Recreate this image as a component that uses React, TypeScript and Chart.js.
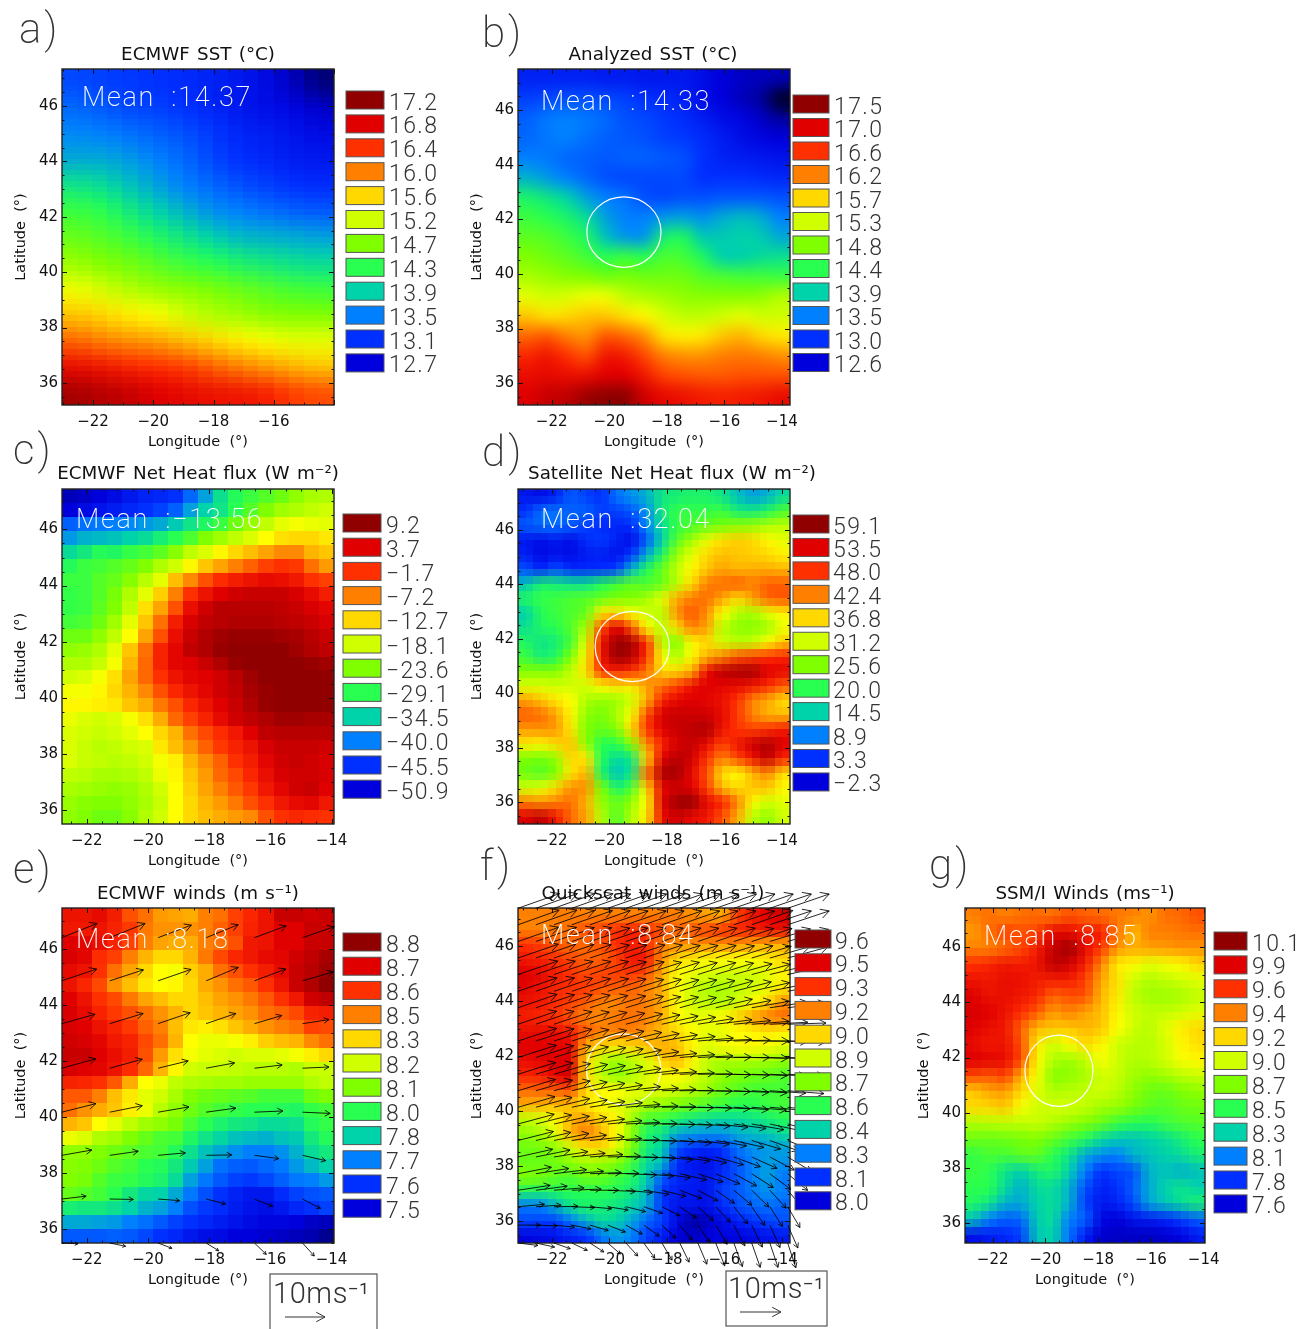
import React, { useEffect, useRef } from "react";
import { Chart, registerables } from "chart.js";

Chart.register(...registerables);

// Field values are colour-class positions: 0 is the lowest legend class, 11 the highest.
const levelsA = [
  [1.3,1.2,1.1,1.0,0.9,0.7,0.5,0.2,-0.3,-0.9],
  [1.7,1.5,1.3,1.2,1.0,0.8,0.5,0.3,0.1,-0.2],
  [2.1,2.0,1.8,1.6,1.4,1.1,0.8,0.6,0.4,0.2],
  [2.5,2.5,2.3,2.0,1.7,1.3,1.0,0.8,0.6,0.5],
  [3.4,3.2,2.8,2.4,2.0,1.7,1.4,1.2,1.0,0.9],
  [4.2,4.0,3.5,3.0,2.6,2.2,2.0,1.8,1.6,1.5],
  [4.7,4.5,4.2,3.8,3.4,3.0,2.7,2.6,2.5,2.4],
  [5.3,5.0,4.8,4.5,4.2,4.0,3.7,3.5,3.3,3.2],
  [6.3,6.0,5.6,5.3,5.1,4.9,4.7,4.5,4.3,4.2],
  [7.2,7.0,6.7,6.4,6.0,5.6,5.4,5.1,5.0,5.0],
  [8.3,8.0,7.8,7.6,7.3,7.0,6.7,6.4,6.2,6.2],
  [9.7,9.5,9.2,9.0,8.8,8.4,8.0,7.7,7.4,7.2],
  [10.7,10.5,10.3,10,9.8,9.6,9.5,9.3,8.8,8.6],
];
const levelsB = [
  [0.7,0.7,0.7,0.7,0.6,0.6,0.5,0.5,0.5,0.3,0,-0.2,-0.3,-0.4],
  [1.2,1.3,1.4,1.4,1.3,1.2,1.0,0.9,0.7,0.3,0,-0.3,-0.6,-1.8],
  [1.6,1.9,2.0,1.9,1.7,1.4,1.3,1.1,0.9,0.6,0.3,0.1,-0.2,-0.6],
  [1.7,1.9,2.0,1.8,1.6,1.5,1.4,1.2,1.1,0.9,0.6,0.3,0.1,0.0],
  [2.0,1.9,1.7,1.6,1.5,1.6,1.6,1.5,1.4,1.0,0.7,0.6,0.5,0.4],
  [2.6,2.3,2.0,1.7,1.4,1.3,1.3,1.3,1.3,1.0,1.0,1.0,0.9,0.8],
  [3.7,3.4,3.0,2.4,2.0,1.8,1.4,1.3,1.4,1.4,1.5,1.5,1.5,1.4],
  [4.2,4.0,3.7,3.2,2.4,2.0,2.0,2.3,2.4,2.2,2.5,2.7,2.5,2.0],
  [4.6,4.5,4.2,3.8,2.8,2.3,2.3,3.6,3.8,2.9,2.9,3.0,2.9,2.5],
  [5.0,4.8,4.6,4.3,4.0,4.2,4.0,4.4,4.3,3.8,3.0,3.0,3.2,3.3],
  [5.5,5.3,5.1,5.0,4.8,4.9,4.8,4.8,4.8,4.5,4.4,4.3,4.3,4.2],
  [6.2,6.0,6.1,6.3,6.3,5.8,5.6,5.4,5.2,5.1,5.1,5.1,5.2,5.6],
  [7.2,6.9,7.0,7.2,7.2,6.9,6.6,6.1,5.8,5.8,6.0,6.2,6.0,6.0],
  [8.3,8.5,8.0,7.8,8.5,8.3,7.8,6.9,6.7,6.8,7.2,7.4,7.0,6.8],
  [9.2,9.5,9.0,8.6,9.5,9.4,8.7,8.0,7.8,7.8,8.0,8.1,8.0,7.8],
  [9.7,9.8,9.7,9.7,10,10,9.5,8.8,8.6,8.5,8.5,8.6,8.6,8.6],
  [10,10.3,10.4,10.8,11,11,10.2,9.8,9.6,9.4,9.3,9.4,9.5,9.7],
];
const levelsC = [
  [-0.3,-0.2,0,0.2,0.5,0.7,0.8,1.0,1.7,2.4,3.3,3.9,4.2,4.5,4.8,5.2,5.5,5.6],
  [0,0.2,0.4,0.6,0.8,1,1.2,1.6,2.4,3,3.4,4,4.5,5,5.4,5.6,5.8,6],
  [1.6,1.8,1.9,2.0,2.1,2.3,2.5,2.9,3.4,3.8,4.2,4.8,5.3,5.8,6.2,6.4,6.3,6.2],
  [2.3,2.6,2.7,2.8,3,3.2,3.6,4,4.4,5,5.4,5.8,6.1,6.5,6.9,7,7,6.8],
  [3.2,3.5,3.9,3.8,4.1,4.3,4.6,5.1,5.8,6.1,6.6,7,7.3,7.6,7.9,7.9,7.4,7.2],
  [3.9,4.2,4.3,4.5,4.7,5.0,5.6,6,6.6,7.2,7.6,8,8.4,8.8,9,8.9,8.2,7.7],
  [4.2,4.2,4.5,4.7,5.1,5.7,6.2,7.3,7.9,8.6,9.1,9.4,9.6,9.8,9.7,9.5,9,8.8],
  [4.1,4.2,4.5,4.9,5.6,6.2,7.1,8,9,9.6,10,10.2,10.3,10.3,10.3,10.1,9.8,9.4],
  [4.1,4.2,4.6,5,5.8,6.9,7.6,8.6,9.7,10.2,10.5,10.5,10.5,10.5,10.4,10.3,10.1,9.9],
  [4.3,4.4,4.8,5.4,6.2,7.2,8.2,9.4,10.1,10.4,10.5,10.6,10.6,10.6,10.5,10.4,10.3,10.1],
  [4.8,4.8,5.2,5.8,6.5,7.6,8.6,9.7,10.3,10.6,10.8,10.9,10.9,10.9,10.8,10.7,10.5,10.3],
  [5.2,5.3,5.6,6.2,7.2,8.2,9.3,9.9,10.4,10.6,10.9,11,11,11,11,10.8,10.6,10.4],
  [5.6,5.6,5.9,6.4,7.4,8.3,9.3,9.9,10,10.3,10.6,10.9,11,11,11.1,11,10.9,10.8],
  [6.0,6.1,6.4,6.9,7.6,8.3,9,9.6,9.9,10,10.2,10.5,10.8,11,11.1,11.2,11.2,11.1],
  [6.4,6.4,6.6,7.0,7.4,7.9,8.6,9.2,9.6,9.9,10.2,10.4,10.7,10.9,11.1,11.2,11.3,11.3],
  [6.6,6.6,6.7,6.8,7.2,7.5,8.1,8.6,9.2,9.6,10,10.3,10.6,10.9,11,11,11.1,11.1],
  [6.3,6.1,6,6.1,6.4,6.9,7.5,8.3,8.8,9.3,9.8,10.2,10.4,10.6,10.8,10.8,10.7,10.7],
  [6.1,6,5.9,6,6.2,6.5,7.0,7.4,8.2,8.7,9.1,9.5,10,10.4,10.5,10.5,10.5,10.5],
  [6.1,5.9,5.7,5.8,6,6.1,6.8,7.3,7.8,8.4,8.9,9.3,9.6,10.1,10.3,10.3,10.3,10.2],
  [6.1,5.9,5.8,5.7,5.8,6,6.4,6.7,7.4,7.9,8.4,9,9.4,9.9,10.2,10.3,10.2,10.1],
  [5.8,5.7,5.5,5.5,5.6,5.8,6.3,6.6,7.2,7.7,8.3,8.7,9.2,9.7,10.1,10.2,10.2,10.1],
  [5.5,5.4,5.3,5.2,5.3,5.6,6,6.5,7.1,7.6,8,8.5,8.9,9.5,9.9,10.2,10.3,10],
  [5.3,5.1,5,5,5.2,5.5,5.9,6.5,7,7.4,7.7,8.1,8.6,9,9.5,9.8,9.9,9.5],
  [5.2,5,4.8,4.8,5.1,5.6,6,6.5,7,7.3,7.5,7.7,7.9,8.6,9,9.2,9.1,9.0],
];
const levelsD = [
  [0.5,0.3,0.7,1.5,1.2,1,1.8,2.2,2.6,3.4,3.6,3.7,3.7,3.4,2.8,2.4,2.6,3.2],
  [1,1.7,1.8,1.6,1.6,1.2,1.2,1.5,2.2,3.5,4.1,4.1,4.1,4.2,3.6,3.5,3.8,4.4],
  [1.5,1.7,1.7,1.5,1.2,0.9,0.8,1.0,2.1,3.2,4.1,4.4,4.7,4.9,5.1,5.2,5.5,5.7],
  [0.5,0.3,0.6,0.3,0.9,1.1,0.7,0.3,1.5,3,4.5,5.4,6.2,6.9,7.1,7,6.6,6.2],
  [0.7,0.2,0.4,0.3,0.6,0.7,0.4,1.1,2.5,3.8,5.3,6.2,7,7.3,7.2,7.1,7,6.7],
  [1.4,0.8,1.4,0.9,0.9,1,1.2,2.6,3.8,4.7,5.8,6.6,7.2,7.6,7.4,7.5,7.5,7.4],
  [2.8,3.6,3.5,3.3,3.3,3.8,4.2,4.6,4.4,4.7,5.7,7,8,8.2,8.4,8,8.4,8.4],
  [3.8,4.1,4.2,4.4,4.5,4.7,5,5,5.4,6.2,7.5,8,8.2,7.6,7,7.6,8.3,8.5],
  [3,3.9,4.2,4.4,4.7,6.8,7,6.4,6,5.7,7.8,8.5,7.8,6.5,5.7,5.5,6.2,6.7],
  [3.3,3.8,4,4.5,5.5,8.5,10,8.5,6.6,5.8,7,8,7.6,5.8,5.2,5.1,5.4,6.3],
  [3.8,3.4,3.6,4.3,6.2,9.5,10.8,10.7,9,5.8,5,6.6,7,6,5.8,5.9,6.5,7.2],
  [4.2,3.6,3.9,5,6.7,9.5,10.8,10.5,9,6.5,5.6,6.6,7.5,8,8.6,8.8,9,9.2],
  [5,5,5,5.8,6.9,9,9.3,9,8.2,7,7,7.5,9.6,10.4,10.6,10.7,10,9.8],
  [6.1,6.1,6,6,6,6.6,6.9,6.8,7.6,8.2,8.8,9.6,10,9.9,9.8,9.5,9.1,8.5],
  [7.6,7.2,6.8,6.5,5.6,5.3,5.4,6,7.4,9.2,9.8,10,9.9,9.6,9,8,7.6,7],
  [8.4,8.2,7.6,6.6,5.2,4.9,5.5,6.4,8.6,10.1,10.3,10.2,10.2,9.8,8.9,8,7.5,7.4],
  [7.7,7.8,7.7,6.8,5,4.7,5,7,8.8,10,10.3,10.4,10.6,9.6,9,8.8,9,9.4],
  [6.8,6.6,7,7.2,5.2,4,4,5,7.8,9.2,10.1,10.3,9.8,8.8,9.5,10.2,10.6,10],
  [5,4.9,5.3,7,6.8,4,3.2,3.5,7,9.9,10.5,10.2,9,8,8.7,9.5,10.4,9.2],
  [4.8,4.5,5,6.8,7.4,3.8,2.8,3.4,8.2,10.6,10.7,9.8,8.6,7,6.6,7.4,8,7],
  [6,6.2,7,7.8,7.8,5,3.7,4.4,7,9.8,10.2,10,8.8,7.4,7,7.2,7.2,6.6],
  [8,7.8,8,8.2,7.4,5.3,4.7,5.2,6.5,10,10.8,10.9,9.8,9.2,8,6.6,6,6.2],
  [10,10.4,9.5,8.3,7.6,5.7,4.5,5.6,6.8,9.6,10.2,9.8,9.5,8.6,7.5,5.8,5.2,6],
];
const levelsE = [
  [9.6,9.6,9.8,9.4,8.6,8.2,7.7,7.6,7.5,8,8.2,8.8,9.2,9.6,10.3,10.3,10.2,10.3],
  [9.5,9.5,9.6,9.3,8.9,8.1,7.8,7.8,7.8,8,8.4,8.8,9.3,9.6,10,10,10.3,10.3],
  [10,9.9,9.7,9.3,8.8,8,7.6,7.5,7.5,8,8.2,8.6,9.5,9.6,10,10,10.3,10.3],
  [10.1,9.9,9.1,8.8,8,7.4,7,7,7.4,8.1,8.7,9.2,9.5,9.8,9.9,10.2,10.4,10.7],
  [9.8,9.6,9,8.2,7.6,7,6.5,6.4,7.1,7.5,8.2,8.6,9,9.4,9.8,10.3,10.5,10.8],
  [9.6,9.2,8.7,7.8,7.3,6.8,6.5,6.6,7,7.5,7.8,8.2,8.5,9,9.6,10.3,10.6,11],
  [10,9.6,9,8.7,8.1,7.6,7.3,7,7,7.3,7.6,7.8,8.1,8.5,9,9.5,10.2,10.4],
  [10.1,9.8,9.3,8.9,8.6,8.2,7.8,7.4,7,7.2,7.4,7.6,7.8,8.2,8.4,8.7,9.3,9.4],
  [10.1,10,9.6,9.3,8.9,8.4,8,7.3,6.8,6.7,6.9,7.2,7.5,7.8,8,8.2,8.8,8.7],
  [10.2,10.1,9.9,9.5,9.3,8.7,8.2,7.4,6.5,6.3,6.3,6.4,6.7,7.1,7.3,7.4,7.9,8.2],
  [10.3,10.3,10,9.7,9.4,8.6,7.7,6.9,6.4,6.2,6.1,6,6.1,6.1,6.2,6.4,6.7,7],
  [10.1,10,9.9,9.6,9.1,8.3,7.4,6.6,6,5.9,5.9,5.8,5.7,5.7,5.7,5.6,5.9,5.9],
  [9.3,9.2,9,8.5,7.5,6.5,6.3,5.8,5.6,5.5,5.4,5.4,5.3,5.3,5.3,5.3,5.6,5.8],
  [8.5,8.5,8,7.3,6.8,6.2,6,5.5,5,4.8,4.7,4.6,4.5,4.3,4.3,4.3,4.8,5],
  [8.2,7.8,7.5,7.2,6.7,6.3,5.7,5.2,4.8,4.5,4.3,4.1,4,4,3.9,3.8,4.1,4.3],
  [7.4,7.2,6.5,6.2,5.8,5.4,5.2,4.9,4.4,4,3.7,3.5,3.4,3.2,3.2,3.3,3.9,4.1],
  [6.3,6.1,5.6,5.4,5,4.7,4.4,4.3,3.8,3.4,3.1,2.8,2.7,2.6,2.8,2.9,3.5,3.9],
  [5.2,5.2,5.0,4.8,4.6,4.4,4.3,3.9,3.3,2.8,2.5,2.2,2,2,2.2,2.6,3.2,3.5],
  [5.1,5,4.8,4.5,4.3,4,3.9,3.5,2.9,2.4,1.8,1.6,1.5,1.7,1.9,2.3,2.7,3],
  [5,4.9,4.5,4.2,4.1,3.9,3.7,3.2,2.4,1.9,1.5,1.2,1.1,1.3,1.6,1.9,2.0,2.3],
  [4.7,4.5,4.3,4,3.5,3.1,3,2.5,1.9,1.4,1,0.7,0.5,0.5,0.9,1.2,1.4,1.5],
  [3.6,3.5,3.5,3.3,3,2.6,2.4,2,1.4,1.1,0.9,0.6,0.4,0.3,0.5,0.8,1,1.2],
  [2.5,2.5,2.4,2.3,2,1.8,1.5,1.2,1,0.8,0.6,0.4,0.2,0.1,0.1,0,-0.2,-0.3],
  [1.5,1.5,1.5,1.6,1.5,1.3,1,0.8,0.5,0.3,0.2,0,0,-0.1,-0.2,-0.3,-0.4,-0.7],
];
const levelsF = [
  [8,8,8,8,8,8,8,8,8,8,8,7.8,7.6,7.5,8.8,9.5,10,10.2],
  [8,8,8.1,8.3,8.6,8.8,9,9.3,9,8.7,8.3,8.5,8.7,8.9,9.1,9.3,9.5,9.6],
  [9,8.8,8.5,8.3,8.3,8.6,9,9.4,9,8.1,7.8,7.8,7.8,7.8,7.8,7.6,7.5,7.5],
  [9.5,9.3,9,8.7,8.4,8.4,8.8,9.5,9.5,7.9,7,6.8,6.6,6.5,6.5,6.5,6.7,7],
  [10,9.8,9.4,9,8.7,8.8,8.8,8.9,8.6,7.5,6.5,6.3,6.1,6,6,6,6.2,6.6],
  [9.9,9.6,9.2,9,8.9,8.6,8.4,8.4,8,7.5,6.5,6,5.6,5.5,5.8,6,6.3,6.8],
  [9.6,9.5,9.1,8.8,8.4,8,7.9,8.2,8,7.5,6.5,6,5.8,5.7,6,6.5,7,7.8],
  [9.4,9.2,9,8.5,8,7.9,8.1,8.2,8,7.5,6.6,6.3,6.3,6.5,7,7.6,8,8.2],
  [9.7,9.8,9.7,9.4,8.5,8,8,8,7.7,7.3,7,6.5,6.2,6.2,6.5,6.6,6.8,6.6],
  [10,10,9.9,9.8,7.5,7,6.8,7,7.2,7.5,7.3,6.6,6.2,6.4,6.5,6.6,6.4,6.2],
  [9.7,9.9,10,10.1,7,5.8,5.3,5.7,6.1,7,7.4,6.6,5.8,5.5,5.5,5.5,5.4,5.2],
  [9.2,9.3,9.8,10.1,7,5.8,5.2,5.6,6.1,6.4,6.5,6.2,5.7,5.2,5,4.8,4.7,4.5],
  [8.3,8.4,8.4,8.6,7,6.6,6.5,6.2,6.2,6.2,6,5.7,5.3,4.8,4.5,4.3,4.3,4.3],
  [7.5,7.4,7.3,7.3,6.8,6.5,6.2,6,5.5,5.2,4.9,4.7,4.4,4.2,4,4,4.2,4.3],
  [5.8,6.1,6.5,7.4,7.6,7,6.6,5.5,4.4,4.2,3.8,3.5,3.3,3.2,3.2,3.4,3.6,3.9],
  [5.2,5.5,6.2,7.4,8,7.4,6.5,5.2,3.8,3.4,2.5,2.3,2.2,2.2,2.5,2.7,2.8,3.2],
  [4.8,4.9,5.2,6,6.8,7,6.2,5,3.6,3,1.4,1,0.8,1,1.8,2.2,2.3,2.4],
  [4.7,4.7,4.8,5.1,5.4,5.3,5,4.3,3.2,2.7,0.9,0.5,0.3,0.8,1.5,2,2.4,2.2],
  [5,4.9,4.6,4.4,4.8,4.7,4.3,3.9,3,1.6,0.8,0.6,0.5,0.9,1.4,2,2.4,1.9],
  [3.7,3.6,3.8,4,3.9,4,3.8,3.5,2.7,1.1,0.6,0.5,0.4,1.2,1.5,1.9,2.2,2],
  [1.9,2,2.6,3.3,3.7,3.6,3.4,3,2.5,1.1,0.4,0.4,0.3,0.8,1.3,1.6,1.8,1.6],
  [1.3,1.2,1.2,1.9,2.6,3.2,3,2.5,1.7,1.2,0.2,-0.5,-0.3,0.2,0.6,1,1.2,1.4],
  [0.1,0.2,0.4,0.7,1,1.8,2.3,2,1.2,0.6,0,-0.2,0,0.1,0.1,0.2,0.4,0.5],
];
const levelsG = [
  [8,8.2,8,8.2,8.3,8.2,8.6,8.4,8.3,8.1,8,7.8,8.2,8.3,8.6],
  [7.7,8.2,8.8,8.6,8.8,9.8,9.8,9.4,9.4,8.2,7.3,8,8,8.1,8.2],
  [8,8,8.3,8.7,9.4,10.3,10.8,9.8,8.9,7.8,7.5,7.6,7.7,7.8,7.8],
  [9,9.2,9.5,9.4,9.6,10.4,10.2,9.4,8,6.8,6.6,6.2,6.4,6.6,7],
  [9.6,9.5,9.7,9.7,9.4,9.4,9.4,8.8,7.6,6.9,6,5.6,5.8,6,6.2],
  [10,9.6,9.7,9.5,9.2,8.4,8.6,8.6,7.4,6.8,5.8,5.4,5.4,5.5,5.8],
  [10.1,10,9.6,9.1,8.5,7.7,8,7.6,7.3,6.6,6,5.8,5.8,6,6.2],
  [10,9.7,9.5,8.4,7.4,7.2,7.2,7.4,7.2,6.5,6,5.7,6.2,6.7,7],
  [9.8,9.5,9.6,8.6,6.8,6,6.5,7,6.6,6,5.7,5.7,6,6.6,6.9],
  [10,9.9,9.7,8.7,6.6,5.6,5.4,5.8,6.4,6,5.6,5.7,6,6.4,6.6],
  [8.7,8.5,8.8,7.5,6.4,5.1,5.2,5.5,6,5.9,5.4,5.2,5.4,5.7,5.9],
  [7.2,7.6,7.7,7,6.2,5.6,5.7,5.8,6,5.7,5.2,4.8,4.7,5,5.2],
  [7,7,7.2,6.4,6,6,6,5.8,5.4,5.3,4.9,4.6,4.5,4.7,4.8],
  [5.6,5.7,5.8,5.8,5.9,5.6,5.3,5,4.7,4.2,4,3.9,4.2,4.4,4.5],
  [4.8,4.7,4.8,4.9,5,4.7,4.3,3.9,3.2,2.9,2.8,3,3.2,3.6,4],
  [4.1,4.4,4.3,4.6,4.6,4,3.4,2.5,2.2,2,2.6,2.8,3,3.2,3.6],
  [4.2,4,3.4,3,3.6,3.8,3,2,1,1.3,1.4,2.6,2.8,2.6,2.8],
  [4,4,3.2,2.6,3.2,3.2,2.6,1.4,0.7,1,1.6,2.5,3,3.3,3],
  [3.8,3.4,2.6,2.5,3,3.2,2.6,1.2,0.5,0.7,1.3,2.4,2.8,3.2,3.6],
  [2.8,2,1.6,1.7,2.9,3.2,2,1.6,0.2,0,0.4,0.6,0.8,1.2,1.6],
  [0.4,0.6,0.8,1.2,2.8,3,1.8,0.6,-0.1,-0.2,-0.2,-0.2,-0.1,0.1,0.6],
];

const legendA = ["17.2","16.8","16.4","16.0","15.6","15.2","14.7","14.3","13.9","13.5","13.1","12.7"];
const legendB = ["17.5","17.0","16.6","16.2","15.7","15.3","14.8","14.4","13.9","13.5","13.0","12.6"];
const legendC = ["9.2","3.7","−1.7","−7.2","−12.7","−18.1","−23.6","−29.1","−34.5","−40.0","−45.5","−50.9"];
const legendD = ["59.1","53.5","48.0","42.4","36.8","31.2","25.6","20.0","14.5","8.9","3.3","−2.3"];
const legendE = ["8.8","8.7","8.6","8.5","8.3","8.2","8.1","8.0","7.8","7.7","7.6","7.5"];
const legendF = ["9.6","9.5","9.3","9.2","9.0","8.9","8.7","8.6","8.4","8.3","8.1","8.0"];
const legendG = ["10.1","9.9","9.6","9.4","9.2","9.0","8.7","8.5","8.3","8.1","7.8","7.6"];

const xTicksShort = [-22, -20, -18, -16];
const xTicksLong = [-22, -20, -18, -16, -14];
const yTicks = [36, 38, 40, 42, 44, 46];

// ECMWF wind vectors (m/s), tails at lonE x latE
const lonE = [-22.82, -21.25, -19.67, -18.1, -16.52, -14.95];
const latE = [46.4, 44.86, 43.33, 41.74, 40.17, 38.63, 37.07, 35.5];
const uE = [
  [8.7,8.7,8.2,7.9,7.8,7.8],[8.6,8.3,8.1,7.9,7.7,7.6],[8.2,8.2,7.9,7.3,6.7,6.5],[8.4,8,7.4,7,6.8,6.5],
  [8.4,8,7.6,7.3,7,6.8],[7.4,7,6.7,6.3,6,5.7],[6,5.8,5.3,4.8,4.5,4.4],[4,3.9,3.4,3.1,2.9,2.9],
];
const vE = [
  [3.5,3.5,3.1,3.2,2.9,2.7],[2.9,2.7,2.8,3.3,2.9,2.2],[2.3,2.5,2.7,2.5,2,1],[2.3,2.2,1.8,1.3,0.8,0.3],
  [2.1,1.6,1.3,1,0.3,-0.3],[1.3,1,0.6,0.1,-0.8,-1.3],[0.7,-0.1,-0.4,-1.2,-1.8,-2.3],[-0.2,-0.8,-1.3,-1.9,-2.8,-3.2],
];

// QuikSCAT wind vectors (m/s), tails at lonF x latF
const lonF = [-23.17,-22.55,-21.92,-21.3,-20.67,-20.05,-19.42,-18.8,-18.17,-17.55,-16.92,-16.3,-15.67,-15.05,-14.42,-13.8];
const latF = [47.38,46.78,46.17,45.57,44.97,44.36,43.76,43.16,42.55,41.95,41.34,40.74,40.14,39.53,38.93,38.33,37.72,37.12,36.52,35.85,35.2];
const uF = [
  [10.2,10.2,10.1,10.1,10,10,10,10,10,10,10,10,10.1,10.2,10.2,10.2],
  [10.1,10.1,10,10,9.9,9.9,9.9,9.9,9.8,9.8,9.8,9.9,10,10.1,10.2,10.2],
  [10,10,9.9,9.8,9.8,9.8,9.7,9.7,9.6,9.6,9.6,9.7,9.8,9.9,10,10],
  [9.9,9.8,9.8,9.7,9.7,9.6,9.6,9.5,9.4,9.4,9.4,9.5,9.6,9.7,9.8,9.9],
  [9.8,9.7,9.6,9.6,9.5,9.5,9.4,9.3,9.2,9.2,9.3,9.3,9.4,9.5,9.6,9.6],
  [9.6,9.5,9.5,9.5,9.5,9.4,9.3,9.2,9.1,9.1,9.1,9.2,9.2,9.3,9.4,9.5],
  [9.6,9.5,9.4,9.4,9.3,9.3,9.2,9.1,9.0,9,9,9,9.1,9.2,9.3,9.3],
  [9.5,9.4,9.3,9.2,9.1,9.1,9,8.9,8.9,8.8,8.8,8.9,9,9.2,9.3,9.4],
  [9.5,9.4,9.3,9.1,9,8.9,8.8,8.7,8.7,8.7,8.7,8.8,8.9,9.1,9.3,9.4],
  [9.4,9.3,9.1,9,8.8,8.7,8.7,8.6,8.6,8.6,8.6,8.7,8.8,8.9,9,9.1],
  [9.3,9.2,9,8.8,8.7,8.6,8.6,8.5,8.5,8.5,8.5,8.6,8.7,8.8,8.9,9],
  [9.2,9,8.9,8.7,8.6,8.5,8.5,8.5,8.4,8.4,8.4,8.5,8.6,8.7,8.8,8.9],
  [9.1,8.9,8.8,8.7,8.6,8.5,8.4,8.4,8.3,8.3,8.3,8.4,8.5,8.5,8.6,8.7],
  [8.9,8.8,8.7,8.6,8.5,8.4,8.3,8.2,8.1,8.0,7.9,7.9,7.9,7.9,7.8,7.6],
  [8.7,8.6,8.6,8.5,8.4,8.3,8.2,8.1,8,7.8,7.7,7.6,7.4,7.1,6.9,6.7],
  [8.5,8.4,8.3,8.2,8.1,8,7.9,7.8,7.6,7.4,7.1,6.8,6.5,6.2,6,5.8],
  [8.2,8.1,8,7.8,7.7,7.6,7.5,7.3,7,6.6,6.2,5.9,5.6,5.3,5.1,4.9],
  [7.9,7.7,7.4,7.2,7,6.8,6.5,6.2,5.9,5.4,4.9,4.6,4.4,4.2,4,3.9],
  [6.5,6.2,5.9,5.6,5.3,5,4.8,4.6,4.4,4.1,3.8,3.6,3.4,3.2,3.1,3],
  [5.5,5.2,5,4.7,4.5,4.3,4,3.8,3.4,3.1,2.9,2.8,2.7,2.6,2.5,2.5],
  [4.9,4.6,4,3.8,3.4,3.1,2.9,2.7,2.5,2.3,2.2,2.2,2.1,2.1,2,2],
];
const vF = [
  [3.6,3.6,3.6,3.6,3.5,3.5,3.5,3.5,3.5,3.5,3.5,3.5,3.5,3.5,3.5,3.5],
  [3.6,3.6,3.5,3.5,3.5,3.4,3.4,3.4,3.4,3.4,3.4,3.4,3.4,3.5,3.4,3.4],
  [3.5,3.5,3.4,3.4,3.3,3.3,3.3,3.3,3.3,3.3,3.3,3.3,3.2,3.2,3.1,3.0],
  [3.4,3.4,3.3,3.3,3.2,3.2,3.2,3.2,3.1,3.1,3.1,3.0,3,2.9,2.8,2.7],
  [3.3,3.3,3.2,3.2,3.2,3.1,3.1,3,3,2.9,2.9,2.8,2.6,2.5,2.3,2.1],
  [3.3,3.3,3.2,3.1,3.1,3,2.9,2.9,2.8,2.8,2.6,2.5,2.3,2.1,1.9,1.7],
  [3.3,3.2,3.2,3.1,3,2.9,2.8,2.7,2.6,2.5,2.3,2.1,1.8,1.6,1.4,1.2],
  [3.2,3.2,3.1,3,2.9,2.7,2.5,2.3,2,1.7,1.4,1.1,0.9,0.7,0.5,0.3],
  [3.1,3,2.9,2.8,2.6,2.4,2.1,1.8,1.5,1.1,0.7,0.4,0.2,0,-0.1,-0.2],
  [3,2.9,2.8,2.6,2.4,2.1,1.8,1.4,1,0.7,0.4,0.1,0,-0.2,-0.3,-0.3],
  [2.9,2.8,2.6,2.4,2.1,1.8,1.4,1,0.6,0.3,0.1,-0.1,-0.2,-0.3,-0.4,-0.4],
  [2.8,2.6,2.4,2.1,1.8,1.4,1,0.6,0.3,0.1,-0.1,-0.2,-0.4,-0.5,-0.6,-0.7],
  [2.6,2.4,2.1,1.8,1.4,1.1,0.7,0.3,0.1,-0.1,-0.2,-0.4,-0.6,-0.7,-0.8,-1],
  [2.4,2.2,1.9,1.6,1.2,0.8,0.4,0.1,-0.1,-0.3,-0.5,-0.8,-1.1,-1.4,-1.7,-2],
  [2.2,2,1.7,1.3,0.9,0.5,0.2,-0.1,-0.3,-0.6,-0.9,-1.3,-1.7,-2.1,-2.5,-2.8],
  [1.9,1.7,1.3,0.9,0.6,0.2,-0.1,-0.3,-0.7,-1,-1.4,-1.9,-2.4,-2.8,-3.2,-3.5],
  [1.6,1.3,1,0.6,0.3,0.1,-0.3,-0.6,-1,-1.5,-2,-2.5,-3,-3.4,-3.8,-4.1],
  [1.2,1,0.6,0.3,0,-0.3,-0.6,-1,-1.5,-2,-2.6,-3.2,-3.7,-4.1,-4.4,-4.6],
  [0.6,0.4,0.1,-0.2,-0.5,-0.8,-1.2,-1.6,-2.2,-2.8,-3.4,-3.8,-4.2,-4.6,-4.9,-5.1],
  [0,-0.2,-0.5,-0.9,-1.3,-1.7,-2.2,-2.7,-3.2,-3.7,-4.2,-4.7,-5.1,-5.4,-5.5,-5.6],
  [-0.6,-1,-1.4,-1.8,-2.2,-2.7,-3.2,-3.7,-4.2,-4.7,-5.2,-5.6,-5.8,-6,-6,-6.1],
];

const COLOR_STOPS: [number, number[]][] = [
  [-2, [0, 0, 30]], [-1, [0, 0, 112]], [0, [0, 0, 220]], [1, [0, 48, 255]], [2, [0, 128, 255]],
  [3, [0, 210, 170]], [4, [40, 255, 80]], [5, [128, 255, 0]], [6, [208, 255, 0]], [6.5, [255, 255, 0]],
  [7, [255, 216, 0]], [8, [255, 128, 0]], [9, [255, 48, 0]], [10, [224, 0, 0]], [11, [144, 0, 0]],
];
const LEGEND_COLORS = ["#900000","#e00000","#ff3000","#ff8000","#ffd800","#d0ff00","#80ff00","#28ff50","#00d2aa","#0080ff","#0030ff","#0000dc"];

function colorOf(v: number): number[] {
  if (v <= COLOR_STOPS[0][0]) return COLOR_STOPS[0][1];
  for (let i = 1; i < COLOR_STOPS.length; i++) {
    const [b, cb] = COLOR_STOPS[i];
    if (v <= b) {
      const [a, ca] = COLOR_STOPS[i - 1];
      const t = (v - a) / (b - a);
      return ca.map((c, k) => c + (cb[k] - c) * t);
    }
  }
  return COLOR_STOPS[COLOR_STOPS.length - 1][1];
}

const THIN = "Roboto, 'Liberation Sans', sans-serif";
const TICK = "'DejaVu Sans', sans-serif";

type Panel = {
  tag: string; title: string; titleX: number; titleY: number; levels: number[][]; blocks: [number, number];
  box: [number, number, number, number]; xr: [number, number]; yr: [number, number]; xt: number[];
  legend: string[]; lx: [number, number]; ly: number; lh: number; lstep: number; ltx: number;
  mean: string; mx: number; my: number; ax: number; ay: number; circle?: [number, number];
  wind?: { lon: number[]; lat: number[]; u: number[][]; v: number[][]; w: number };
  key?: { box: number[]; open: boolean; tx: number; ty: number; ar: number[] };
};

const PANELS: Panel[] = [
  { tag: "a)", title: "ECMWF SST (°C)", titleX: 198, titleY: 55, levels: levelsA, blocks: [18, 60],
    box: [62, 334, 69, 405], xr: [-23.03, -14], yr: [35.2, 47.34], xt: xTicksShort,
    legend: legendA, lx: [346, 384], ly: 91, lh: 18, lstep: 23.9, ltx: 389, mean: "Mean  :14.37", mx: 82, my: 106, ax: 19, ay: 43 },
  { tag: "b)", title: "Analyzed SST (°C)", titleX: 653, titleY: 55, levels: levelsB, blocks: [136, 168],
    box: [518, 790, 69, 405], xr: [-23.17, -13.72], yr: [35.2, 47.5], xt: xTicksLong,
    legend: legendB, lx: [793, 829], ly: 95, lh: 18, lstep: 23.5, ltx: 834, mean: "Mean  :14.33", mx: 541, my: 110, ax: 482, ay: 47, circle: [-19.49, 41.53] },
  { tag: "c)", title: "ECMWF Net Heat flux (W m⁻²)", titleX: 198, titleY: 474, levels: levelsC, blocks: [18, 24],
    box: [62, 334, 489, 824], xr: [-22.81, -13.92], yr: [35.51, 47.44], xt: xTicksLong,
    legend: legendC, lx: [343, 381], ly: 514, lh: 18, lstep: 24.2, ltx: 386, mean: "Mean  :−13.56", mx: 76, my: 528, ax: 13, ay: 464 },
  { tag: "d)", title: "Satellite Net Heat flux (W m⁻²)", titleX: 672, titleY: 474, levels: levelsD, blocks: [36, 46],
    box: [518, 790, 489, 824], xr: [-23.17, -13.72], yr: [35.2, 47.5], xt: xTicksLong,
    legend: legendD, lx: [793, 829], ly: 515, lh: 18, lstep: 23.45, ltx: 833, mean: "Mean  :32.04", mx: 541, my: 528, ax: 482, ay: 466, circle: [-19.2, 41.72] },
  { tag: "e)", title: "ECMWF winds (m s⁻¹)", titleX: 198, titleY: 894, levels: levelsE, blocks: [18, 24],
    box: [62, 334, 908, 1243], xr: [-22.81, -13.92], yr: [35.5, 47.46], xt: xTicksLong,
    legend: legendE, lx: [343, 381], ly: 933, lh: 18, lstep: 24.2, ltx: 386, mean: "Mean  :8.18", mx: 76, my: 948, ax: 13, ay: 883,
    wind: { lon: lonE, lat: latE, u: uE, v: vE, w: 1 },
    key: { box: [270, 1274, 377, 1340], open: true, tx: 273, ty: 1303, ar: [285, 325, 1317] } },
  { tag: "f)", title: "Quickscat winds (m s⁻¹)", titleX: 653, titleY: 894, levels: levelsF, blocks: [36, 46],
    box: [518, 790, 908, 1243], xr: [-23.17, -13.72], yr: [35.2, 47.39], xt: xTicksLong,
    legend: legendF, lx: [795, 831], ly: 930, lh: 18, lstep: 23.8, ltx: 835, mean: "Mean  :8.84", mx: 541, my: 944, ax: 480, ay: 880, circle: [-19.5, 41.52],
    wind: { lon: lonF, lat: latF, u: uF, v: vF, w: 1 },
    key: { box: [726, 1271, 827, 1326], open: false, tx: 728, ty: 1298, ar: [740, 781, 1312] } },
  { tag: "g)", title: "SSM/I Winds (ms⁻¹)", titleX: 1085, titleY: 894, levels: levelsG, blocks: [30, 42],
    box: [965, 1205, 908, 1243], xr: [-23.05, -13.95], yr: [35.28, 47.42], xt: xTicksLong,
    legend: legendG, lx: [1214, 1247], ly: 932, lh: 18, lstep: 23.9, ltx: 1252, mean: "Mean  :8.85", mx: 984, my: 945, ax: 929, ay: 879, circle: [-19.49, 41.52] },
];

const PX_PER_MS = 4.07;
const CIRCLE_RADIUS_DEG = 1.29;
const X_AXIS_BAND = 50;
const Y_AXIS_BAND = 60;

function drawArrow(ctx: CanvasRenderingContext2D, x0: number, y0: number, x1: number, y1: number, head: number) {
  const a = Math.atan2(y1 - y0, x1 - x0);
  const s = 0.5;
  ctx.beginPath();
  ctx.moveTo(x0, y0);
  ctx.lineTo(x1, y1);
  ctx.moveTo(x1 - head * Math.cos(a - s), y1 - head * Math.sin(a - s));
  ctx.lineTo(x1, y1);
  ctx.lineTo(x1 - head * Math.cos(a + s), y1 - head * Math.sin(a + s));
  ctx.stroke();
}

function panelPlugin(p: Panel) {
  return {
    id: "panel",
    beforeDatasetsDraw(chart: any) {
      const { ctx, scales: { x, y } } = chart;
      const rows = p.levels.length, cols = p.levels[0].length;
      const pts = chart.data.datasets[0].data as { v: number }[];
      const src = document.createElement("canvas");
      src.width = cols; src.height = rows;
      const sc = src.getContext("2d")!;
      const img = sc.createImageData(cols, rows);
      pts.forEach((pt, i) => {
        const c = colorOf(pt.v);
        img.data[i * 4] = c[0]; img.data[i * 4 + 1] = c[1]; img.data[i * 4 + 2] = c[2]; img.data[i * 4 + 3] = 255;
      });
      sc.putImageData(img, 0, 0);
      const mid = document.createElement("canvas");
      mid.width = p.blocks[0]; mid.height = p.blocks[1];
      const mc = mid.getContext("2d")!;
      mc.imageSmoothingEnabled = p.blocks[0] !== cols;
      mc.imageSmoothingQuality = "high";
      mc.drawImage(src, 0, 0, mid.width, mid.height);
      const L = x.getPixelForValue(p.xr[0]), R = x.getPixelForValue(p.xr[1]);
      const T = y.getPixelForValue(p.yr[1]), B = y.getPixelForValue(p.yr[0]);
      ctx.save();
      ctx.imageSmoothingEnabled = p.blocks[0] > 100;
      ctx.drawImage(mid, L, T, R - L, B - T);
      ctx.restore();
    },
    afterDraw(chart: any) {
      const { ctx, scales: { x, y } } = chart;
      const L = x.getPixelForValue(p.xr[0]), R = x.getPixelForValue(p.xr[1]);
      const T = y.getPixelForValue(p.yr[1]), B = y.getPixelForValue(p.yr[0]);
      ctx.save();
      // inward ticks on all four sides
      ctx.strokeStyle = "#111";
      ctx.lineWidth = 1;
      ctx.beginPath();
      for (let v = Math.ceil(p.xr[0] * 2) / 2; v <= p.xr[1]; v += 0.5) {
        const px = Math.round(x.getPixelForValue(v)) + 0.5;
        const len = v % 2 === 0 ? 5 : 2.5;
        ctx.moveTo(px, B); ctx.lineTo(px, B - len);
        ctx.moveTo(px, T); ctx.lineTo(px, T + len);
      }
      for (let v = Math.ceil(p.yr[0] * 2) / 2; v <= p.yr[1]; v += 0.5) {
        const py = Math.round(y.getPixelForValue(v)) + 0.5;
        const len = v % 2 === 0 ? 5 : 2.5;
        ctx.moveTo(L, py); ctx.lineTo(L + len, py);
        ctx.moveTo(R, py); ctx.lineTo(R - len, py);
      }
      ctx.stroke();
      ctx.lineWidth = 1.4;
      ctx.strokeStyle = "#222";
      ctx.strokeRect(L, T, R - L, B - T);

      // circle
      if (p.circle) {
        ctx.strokeStyle = "#fff";
        ctx.lineWidth = 1.2;
        ctx.beginPath();
        const cx = x.getPixelForValue(p.circle[0]), cy = y.getPixelForValue(p.circle[1]);
        const rx = Math.abs(x.getPixelForValue(p.circle[0] + CIRCLE_RADIUS_DEG) - cx);
        const ry = Math.abs(y.getPixelForValue(p.circle[1] + CIRCLE_RADIUS_DEG) - cy);
        ctx.ellipse(cx, cy, rx, ry, 0, 0, Math.PI * 2);
        ctx.stroke();
      }

      // title
      ctx.fillStyle = "#111";
      ctx.font = `18.3px ${TICK}`;
      (ctx as any).wordSpacing = "1.5px";
      ctx.textAlign = "center";
      ctx.textBaseline = "middle";
      ctx.fillText(p.title, p.titleX, p.titleY);
      (ctx as any).wordSpacing = "0px";

      // wind vectors
      if (p.wind) {
        ctx.strokeStyle = "#000";
        ctx.lineWidth = 0.85;
        p.wind.lat.forEach((la, r) => p.wind!.lon.forEach((lo, c) => {
          const x0 = x.getPixelForValue(lo), y0 = y.getPixelForValue(la);
          const dx = p.wind!.u[r][c] * PX_PER_MS, dy = -p.wind!.v[r][c] * PX_PER_MS;
          drawArrow(ctx, x0, y0, x0 + dx, y0 + dy, Math.max(2, Math.hypot(dx, dy) * 0.22));
        }));
      }

      // colour legend
      p.legend.forEach((t, i) => {
        const yy = p.ly + i * p.lstep;
        ctx.fillStyle = LEGEND_COLORS[i];
        ctx.fillRect(p.lx[0], yy, p.lx[1] - p.lx[0], p.lh);
        ctx.strokeStyle = "#555";
        ctx.lineWidth = 1;
        ctx.strokeRect(p.lx[0], yy, p.lx[1] - p.lx[0], p.lh);
        ctx.fillStyle = "#333";
        ctx.font = `300 23px ${THIN}`;
        (ctx as any).letterSpacing = "1.4px";
        ctx.textAlign = "left";
        ctx.textBaseline = "alphabetic";
        ctx.fillText(t, p.ltx, yy + p.lh + 0.5);
      });

      // mean label
      ctx.fillStyle = "#fff";
      ctx.font = `200 27px ${THIN}`;
      (ctx as any).letterSpacing = "1.7px";
      ctx.fillText(p.mean, p.mx, p.my);

      // panel letter
      ctx.fillStyle = "#333";
      ctx.font = `200 42px ${THIN}`;
      (ctx as any).letterSpacing = "3px";
      ctx.fillText(p.tag, p.ax, p.ay);
      (ctx as any).letterSpacing = "0px";

      // reference-arrow key
      if (p.key) {
        const [kl, kt, kr, kb] = p.key.box;
        ctx.strokeStyle = "#555";
        ctx.lineWidth = 1.2;
        ctx.strokeRect(kl, kt, kr - kl, kb - kt);
        ctx.fillStyle = "#333";
        ctx.font = `300 29px ${THIN}`;
        (ctx as any).letterSpacing = "0.6px";
        ctx.textAlign = "left";
        ctx.textBaseline = "alphabetic";
        ctx.fillText("10ms⁻¹", p.key.tx, p.key.ty);
        (ctx as any).letterSpacing = "0px";
        ctx.strokeStyle = "#333";
        ctx.lineWidth = 1;
        drawArrow(ctx, p.key.ar[0], p.key.ar[2], p.key.ar[1], p.key.ar[2], 10);
      }
      ctx.restore();
    },
  };
}

function minusLabel(v: number | string) {
  return String(v).replace("-", "−");
}

function PanelChart({ panel }: { panel: Panel }) {
  const ref = useRef<HTMLCanvasElement | null>(null);
  useEffect(() => {
    const [L, R, T, B] = panel.box;
    const rows = panel.levels.length, cols = panel.levels[0].length;
    const cells: { x: number; y: number; v: number }[] = [];
    panel.levels.forEach((row, r) => row.forEach((v, c) => {
      cells.push({
        x: panel.xr[0] + ((c + 0.5) / cols) * (panel.xr[1] - panel.xr[0]),
        y: panel.yr[1] - ((r + 0.5) / rows) * (panel.yr[1] - panel.yr[0]),
        v,
      });
    }));
    const tickFont = { family: TICK, size: 15 };
    const titleFont = { family: TICK, size: 14.5 };
    const chart = new Chart(ref.current!, {
      type: "scatter",
      data: { datasets: [{ data: cells as any, pointRadius: 0, showLine: false }] },
      options: {
        animation: false,
        responsive: false,
        devicePixelRatio: 1,
        events: [],
        layout: { padding: { left: L - Y_AXIS_BAND, right: 1305 - R, top: T, bottom: 1329 - B - X_AXIS_BAND } },
        plugins: { legend: { display: false }, tooltip: { enabled: false } },
        scales: {
          x: {
            type: "linear", min: panel.xr[0], max: panel.xr[1],
            grid: { display: false, drawTicks: false }, border: { display: false },
            afterBuildTicks: (s: any) => { s.ticks = panel.xt.map((value) => ({ value })); },
            afterFit: (s: any) => { s.height = X_AXIS_BAND; s.paddingLeft = 0; s.paddingRight = 0; },
            ticks: { color: "#111", font: tickFont, padding: 8, maxRotation: 0, minRotation: 0, autoSkip: false, callback: minusLabel as any },
            title: { display: true, text: "Longitude  (°)", color: "#111", font: titleFont, padding: { top: 0, bottom: 4 } },
          },
          y: {
            type: "linear", min: panel.yr[0], max: panel.yr[1],
            grid: { display: false, drawTicks: false }, border: { display: false },
            afterBuildTicks: (s: any) => { s.ticks = yTicks.map((value) => ({ value })); },
            afterFit: (s: any) => { s.width = Y_AXIS_BAND; s.paddingTop = 0; s.paddingBottom = 0; },
            ticks: { color: "#111", font: tickFont, padding: 4, autoSkip: false, callback: minusLabel as any },
            title: { display: true, text: "Latitude  (°)", color: "#111", font: titleFont, padding: { top: 11, bottom: 0 } },
          },
        },
      },
      plugins: [panelPlugin(panel)],
    } as any);
    return () => chart.destroy();
  }, [panel]);
  return <canvas ref={ref} width={1305} height={1329} style={{ position: "absolute", left: 0, top: 0 }} />;
}

export default function App() {
  return (
    <div style={{ position: "absolute", left: 0, top: 0, width: 1305, height: 1329, overflow: "hidden", background: "#fff" }}>
      {PANELS.map((p) => <PanelChart key={p.tag} panel={p} />)}
    </div>
  );
}
